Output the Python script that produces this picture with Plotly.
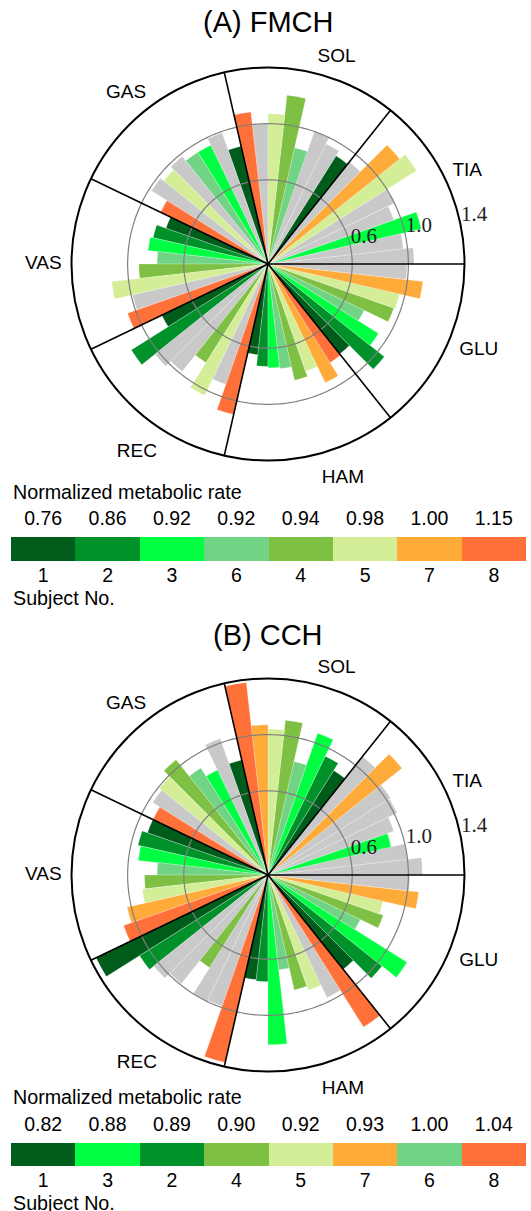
import plotly.graph_objects as go

# ---------------- data ----------------
muscles = ["TIA", "SOL", "GAS", "VAS", "REC", "HAM", "GLU"]   # counter-clockwise from 0 deg
label_angles = [26.6, 76.1, 126.2, 179.5, 237.4, 285.1, 338.0]  # where the muscle names sit
slot_subjects = [1, 2, 3, 6, 4, 5, 7, 8]                       # bar order inside each muscle sector

subject_colors = {1: "#005c1b", 2: "#00912b", 3: "#00ff42", 6: "#70d484",
                  4: "#7dc044", 5: "#d3ee97", 7: "#ffab3a", 8: "#ff7139"}
gray = "#c9c9c9"

# (A) FMCH : values per muscle (8 slots) and whether the slot is highlighted (1) or grey (0)
fmch_values = [
    [1.04, 0.97, 1.12, 0.95, 1.00, 1.25, 1.20, 0.93],  # TIA
    [0.91, 0.95, 1.00, 0.85, 1.21, 1.07, 1.00, 1.09],  # SOL
    [0.86, 0.99, 0.94, 0.94, 0.98, 0.95, 0.98, 0.85],  # GAS
    [0.77, 0.84, 0.86, 0.79, 0.92, 1.12, 0.99, 1.06],  # VAS
    [0.84, 1.15, 1.03, 0.98, 0.83, 1.04, 0.91, 1.10],  # REC
    [0.65, 0.73, 0.74, 0.75, 0.85, 0.81, 0.94, 0.83],  # HAM
    [0.82, 1.06, 0.93, 0.76, 0.95, 0.96, 1.11, 0.99],  # GLU
]
fmch_active = [
    [0, 0, 1, 0, 0, 1, 1, 0],
    [1, 0, 0, 1, 1, 1, 0, 1],
    [1, 0, 1, 1, 0, 1, 0, 1],
    [1, 1, 1, 1, 1, 1, 0, 1],
    [1, 1, 0, 0, 1, 1, 0, 1],
    [1, 1, 1, 1, 1, 1, 1, 1],
    [1, 1, 1, 1, 1, 1, 1, 0],
]

# (B) CCH
cch_values = [
    [1.10, 1.00, 0.90, 0.95, 1.02, 1.03, 1.22, 1.08],  # TIA
    [0.88, 0.94, 1.07, 0.83, 1.11, 1.04, 1.07, 1.38],  # SOL
    [0.84, 1.03, 0.83, 0.90, 1.05, 0.99, 0.97, 0.91],  # GAS
    [0.91, 0.95, 0.93, 0.79, 0.88, 0.90, 1.03, 1.09],  # VAS
    [1.36, 1.08, 1.04, 0.99, 0.78, 1.00, 0.99, 1.37],  # REC
    [0.75, 0.76, 1.21, 0.68, 0.84, 0.87, 0.97, 1.28],  # HAM
    [0.86, 1.04, 1.17, 0.73, 0.87, 0.84, 1.08, 1.01],  # GLU
]
cch_active = [
    [0, 0, 1, 0, 0, 0, 1, 0],
    [1, 1, 1, 1, 1, 1, 1, 1],
    [1, 0, 1, 1, 1, 1, 0, 1],
    [1, 1, 1, 1, 1, 1, 1, 1],
    [1, 1, 0, 0, 1, 0, 0, 1],
    [1, 1, 1, 1, 1, 1, 0, 1],
    [1, 1, 1, 1, 1, 1, 1, 0],
]

# legends (subjects sorted by normalized metabolic rate)
fmch_legend_subjects = [1, 2, 3, 6, 4, 5, 7, 8]
fmch_legend_rates = ["0.76", "0.86", "0.92", "0.92", "0.94", "0.98", "1.00", "1.15"]
cch_legend_subjects = [1, 3, 2, 4, 5, 7, 6, 8]
cch_legend_rates = ["0.82", "0.88", "0.89", "0.90", "0.92", "0.93", "1.00", "1.04"]

radial_ticks = [0.6, 1.0, 1.4]
r_max = 1.4

# ---------------- figure ----------------
W, H = 531, 1211
SANS = "Liberation Sans, Arial, Helvetica, sans-serif"
SERIF = "Liberation Serif, Times New Roman, serif"

n_m = len(muscles)
n_s = len(slot_subjects)
sector = 360.0 / n_m
slot_w = sector / n_s
bounds = [i * sector for i in range(n_m)]

fig = go.Figure()


def add_polar(values, active, polar_id):
    th, rr, cc = [], [], []
    for i in range(n_m):
        for j in range(n_s):
            th.append(i * sector + (j + 0.5) * slot_w)
            rr.append(values[i][j])
            cc.append(subject_colors[slot_subjects[j]] if active[i][j] else gray)
    fig.add_trace(go.Barpolar(r=rr, theta=th, width=[slot_w] * len(th),
                              marker=dict(color=cc, line=dict(width=0.4, color="rgba(255,255,255,0.6)")),
                              subplot=polar_id, showlegend=False, hoverinfo="skip"))
    # grid circles above bars
    for rt in radial_ticks[:-1]:
        fig.add_trace(go.Scatterpolar(r=[rt] * 361, theta=list(range(361)), mode="lines",
                                      line=dict(color="#7f7f7f", width=1.2),
                                      subplot=polar_id, showlegend=False, hoverinfo="skip"))
    # sector boundaries
    br, bt = [], []
    for b in bounds:
        br += [0, r_max, None]
        bt += [b, b, None]
    fig.add_trace(go.Scatterpolar(r=br, theta=bt, mode="lines",
                                  line=dict(color="black", width=1.6),
                                  subplot=polar_id, showlegend=False, hoverinfo="skip"))
    # radial tick labels
    fig.add_trace(go.Scatterpolar(r=radial_ticks, theta=[11] * len(radial_ticks), mode="text",
                                  text=["%.1f" % v for v in radial_ticks],
                                  textposition="top right",
                                  textfont=dict(family=SERIF, size=21, color="#222"),
                                  cliponaxis=False,
                                  subplot=polar_id, showlegend=False, hoverinfo="skip"))


add_polar(fmch_values, fmch_active, "polar")
add_polar(cch_values, cch_active, "polar2")


def polar_layout(cx, cy, rad):
    return dict(
        domain=dict(x=[(cx - rad) / W, (cx + rad) / W],
                    y=[1 - (cy + rad) / H, 1 - (cy - rad) / H]),
        bgcolor="white",
        radialaxis=dict(range=[0, r_max], showgrid=False, showline=False, ticks="",
                        showticklabels=False),
        angularaxis=dict(rotation=0, direction="counterclockwise", tickmode="array",
                         tickvals=label_angles, ticktext=muscles, showgrid=False,
                         showline=True, linecolor="black", linewidth=2,
                         ticks="outside", ticklen=5, tickcolor="rgba(0,0,0,0)",
                         tickfont=dict(family=SANS, size=19, color="black")),
    )


# legend strips (cartesian bars)
def add_legend(subjects, rates, xa, ya, xtop):
    fig.add_trace(go.Bar(x=list(range(len(subjects))), y=[1] * len(subjects), width=1,
                         marker=dict(color=[subject_colors[s] for s in subjects], line=dict(width=0)),
                         xaxis=xa, yaxis=ya, showlegend=False, hoverinfo="skip"))
    fig.add_trace(go.Scatter(x=list(range(len(subjects))), y=[0.5] * len(subjects), mode="markers",
                             marker=dict(opacity=0), xaxis=xtop, yaxis=ya,
                             showlegend=False, hoverinfo="skip"))


add_legend(fmch_legend_subjects, fmch_legend_rates, "x", "y", "x3")
add_legend(cch_legend_subjects, cch_legend_rates, "x2", "y2", "x4")


def xax(domain, ticktext, side="bottom", overlay=None, anchor=None, ticklen=0):
    d = dict(domain=domain, range=[-0.5, 7.5], tickmode="array", tickvals=list(range(8)),
             ticktext=ticktext, showgrid=False, zeroline=False, showline=False,
             ticks="outside" if ticklen else "", ticklen=ticklen, tickcolor="rgba(0,0,0,0)", side=side,
             tickfont=dict(family=SANS, size=19.5, color="black"), fixedrange=True)
    if overlay:
        d["overlaying"] = overlay
    if anchor:
        d["anchor"] = anchor
    return d


lx = [11 / W, 526 / W]
yA = [1 - 561 / H, 1 - 537 / H]
yB = [1 - 1166 / H, 1 - 1143 / H]

annotations = [
    dict(text="(A) FMCH", x=268 / W, y=1 - 22 / H, xref="paper", yref="paper",
         showarrow=False, font=dict(family=SANS, size=29, color="black"), xanchor="center", yanchor="middle"),
    dict(text="(B) CCH", x=268 / W, y=1 - 635 / H, xref="paper", yref="paper",
         showarrow=False, font=dict(family=SANS, size=29, color="black"), xanchor="center", yanchor="middle"),
]
for ytxt, txt in [(492, "Normalized metabolic rate"), (598, "Subject No."),
                  (1097, "Normalized metabolic rate"), (1203, "Subject No.")]:
    annotations.append(dict(text=txt, x=11 / W, y=1 - ytxt / H, xref="paper", yref="paper",
                            showarrow=False, xanchor="left", yanchor="middle",
                            font=dict(family=SANS, size=19.7, color="black")))

fig.update_layout(
    width=W, height=H, margin=dict(l=0, r=0, t=0, b=0),
    paper_bgcolor="white", plot_bgcolor="white",
    polar=polar_layout(268, 264, 196.5),
    polar2=polar_layout(268, 875, 196.5),
    xaxis=xax(lx, [str(s) for s in fmch_legend_subjects], anchor="y"),
    yaxis=dict(domain=yA, range=[0, 1], visible=False, fixedrange=True),
    xaxis2=xax(lx, [str(s) for s in cch_legend_subjects], anchor="y2"),
    yaxis2=dict(domain=yB, range=[0, 1], visible=False, fixedrange=True),
    xaxis3=xax(lx, fmch_legend_rates, side="top", overlay="x", anchor="y", ticklen=3),
    xaxis4=xax(lx, cch_legend_rates, side="top", overlay="x2", anchor="y2", ticklen=3),
    bargap=0,
    annotations=annotations,
    showlegend=False,
)

fig.write_html("out.html")
